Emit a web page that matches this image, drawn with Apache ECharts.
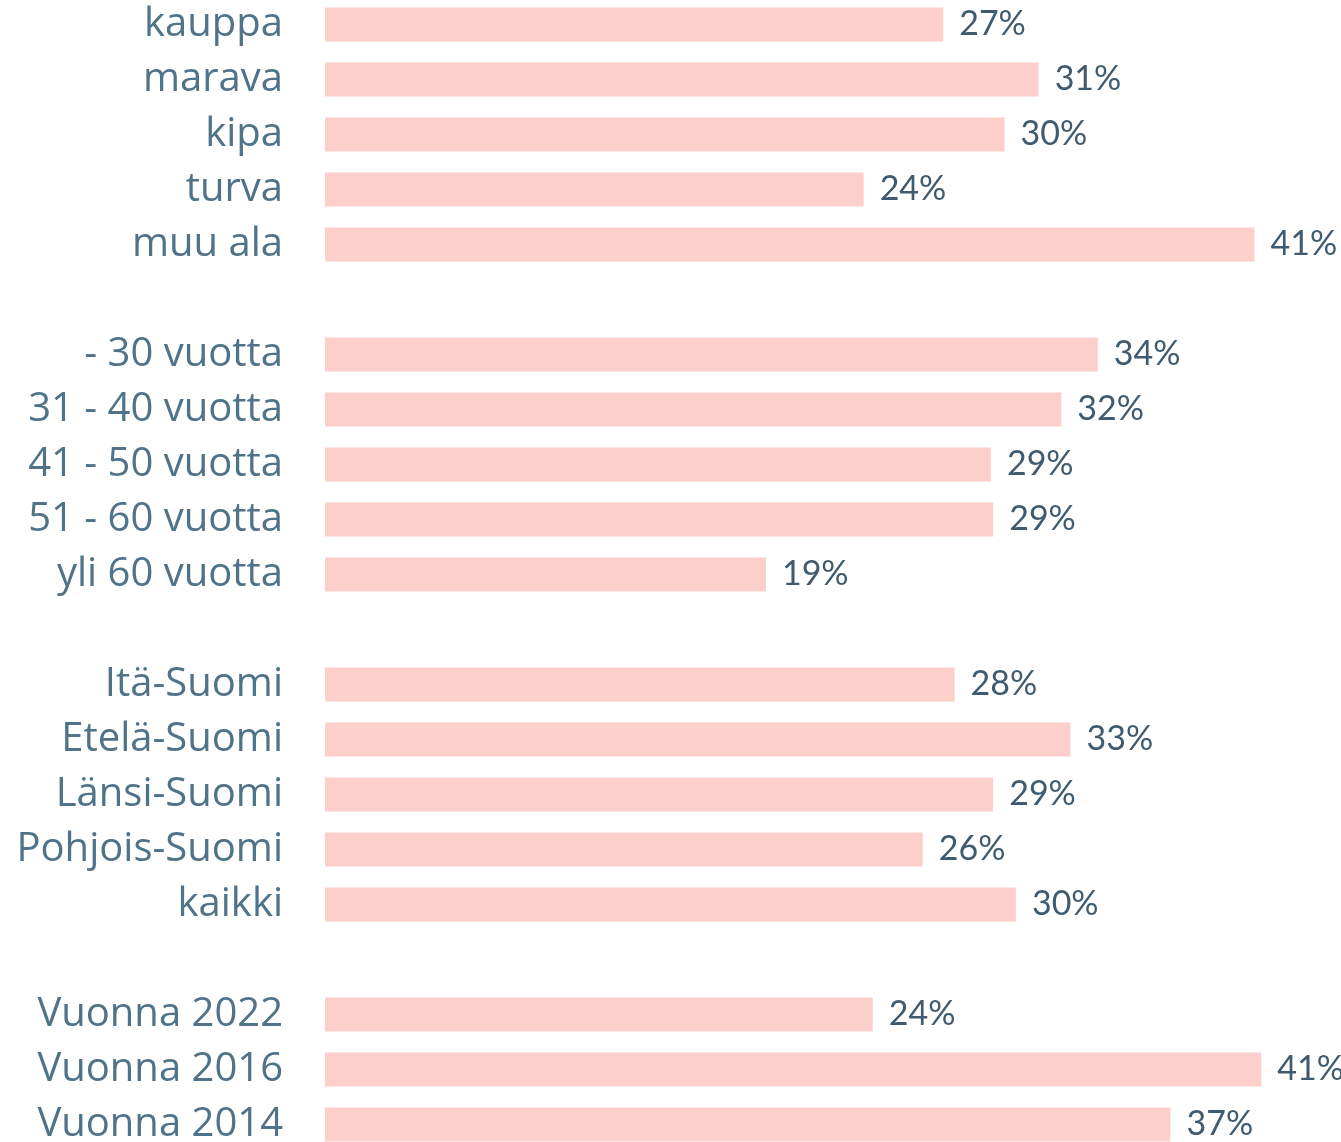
<!DOCTYPE html>
<html>
<head>
<meta charset="utf-8">
<script src="https://cdn.jsdelivr.net/npm/echarts@6/dist/echarts.min.js"></script>
<style>
html, body { margin: 0; padding: 0; background: #fff; overflow: hidden; }
#main { position: absolute; left: 0; top: -3px; width: 1341px; height: 1160px; }
</style>
</head>
<body>
<div id="main"></div>
<script>
// empty strings are the gaps between the groups
var categories = [
    'kauppa', 'marava', 'kipa', 'turva', 'muu ala', '',
    '- 30 vuotta', '31 - 40 vuotta', '41 - 50 vuotta', '51 - 60 vuotta', 'yli 60 vuotta', ' ',
    'Itä-Suomi', 'Etelä-Suomi', 'Länsi-Suomi', 'Pohjois-Suomi', 'kaikki', '  ',
    'Vuonna 2022', 'Vuonna 2016', 'Vuonna 2014'
];
var values = [
    27.2, 31.4, 29.9, 23.7, 40.9, null,
    34.0, 32.4, 29.3, 29.4, 19.4, null,
    27.7, 32.8, 29.4, 26.3, 30.4, null,
    24.1, 41.2, 37.2
];

var myChart = echarts.init(document.getElementById('main'));
var option = {
    animation: false,
    grid: {
        left: 325,
        top: 0,
        width: 1000,
        height: 1155
    },
    xAxis: {
        type: 'value',
        min: 0,
        max: 44,
        show: false
    },
    yAxis: {
        type: 'category',
        inverse: true,
        data: categories,
        axisLine: { show: false },
        axisTick: { show: false },
        axisLabel: {
            margin: 42,
            fontFamily: 'Open Sans',
            fontSize: 40,
            color: '#4f7389'
        }
    },
    series: [
        {
            type: 'bar',
            data: values,
            barWidth: 34,
            itemStyle: { color: '#fccfca' },
            label: {
                show: true,
                position: 'right',
                distance: 16,
                fontFamily: 'Lato',
                fontSize: 34,
                color: '#3f5b6f',
                formatter: function (p) {
                    return Math.round(p.value) + '%';
                }
            }
        }
    ]
};
myChart.setOption(option);
</script>
</body>
</html>
